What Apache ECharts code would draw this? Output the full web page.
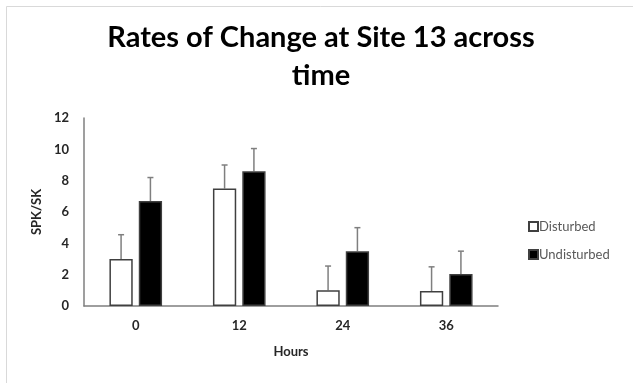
<!DOCTYPE html>
<html><head><meta charset="utf-8">
<script src="https://cdn.jsdelivr.net/npm/echarts@6/dist/echarts.min.js"></script>
<style>html,body{margin:0;padding:0;background:#fff}#c{width:633px;height:383px}</style>
</head><body><div id="c"></div>
<script>
const categories = ['0', '12', '24', '36'];
const disturbed = [3.0, 7.5, 1.0, 0.95];
const undisturbed = [6.7, 8.6, 3.5, 2.05];
const disturbedErr = [1.55, 1.5, 1.55, 1.55];
const undisturbedErr = [1.5, 1.45, 1.5, 1.45];
const yTicks = { min: 0, max: 12, interval: 2 };

const chart = echarts.init(document.getElementById('c'), null, { renderer: 'canvas' });
const FONT = 'Lato';
const BAR_W = 0.225, GAP = 0.26;

function errSeries(vals, errs, side) {
  return {
    type: 'custom',
    z: 1,
    silent: true,
    data: vals.map((v, i) => [i, v, v + errs[i]]),
    renderItem: function (params, api) {
      const band = api.size([1, 0])[0];
      const bw = band * BAR_W;
      const off = side * bw * (1 + GAP) / 2;
      const p0 = api.coord([api.value(0), api.value(1)]);
      const p1 = api.coord([api.value(0), api.value(2)]);
      const x = p0[0] + off;
      const style = { stroke: '#7f7f7f', lineWidth: 1.5 };
      return {
        type: 'group',
        children: [
          { type: 'line', shape: { x1: x, y1: p0[1], x2: x, y2: p1[1] }, style: style },
          { type: 'line', shape: { x1: x - 3, y1: p1[1], x2: x + 3, y2: p1[1] }, style: style }
        ]
      };
    }
  };
}

chart.setOption({
  animation: false,
  backgroundColor: '#fff',
  graphic: [{
    type: 'rect', left: 4, top: 4, shape: { width: 640, height: 377 },
    style: { fill: 'none', stroke: '#d9d9d9', lineWidth: 1 }, z: -10
  }, {
    type: 'text', x: 321, y: 57,
    style: {
      text: 'Rates of Change at Site 13 across\ntime', textAlign: 'center', textVerticalAlign: 'middle',
      font: 'bold 29px ' + FONT, fill: '#000', lineHeight: 38
    }
  }],
  legend: {
    data: ['Disturbed', 'Undisturbed'],
    orient: 'vertical', left: 523, top: 215, itemGap: 15,
    icon: 'rect', itemWidth: 9, itemHeight: 9,
    textStyle: { fontFamily: FONT, fontSize: 13, color: '#595959', padding: [0, 0, 0, -4] }
  },
  grid: { left: 84, right: 135, top: 118, bottom: 77 },
  xAxis: {
    type: 'category', data: categories,
    name: 'Hours', nameLocation: 'middle', nameGap: 39,
    nameTextStyle: { fontFamily: FONT, fontWeight: 'bold', fontSize: 13, color: '#262626' },
    axisLine: { lineStyle: { color: '#7f7f7f', width: 1.5 } },
    axisTick: { show: false },
    axisLabel: { fontFamily: FONT, fontWeight: 'bold', fontSize: 13, color: '#262626', margin: 13 }
  },
  yAxis: {
    type: 'value', min: yTicks.min, max: yTicks.max, interval: yTicks.interval,
    name: 'SPK/SK', nameLocation: 'middle', nameRotate: 90, nameGap: 36,
    nameTextStyle: { fontFamily: FONT, fontWeight: 'bold', fontSize: 13, color: '#262626' },
    axisLine: { show: true, lineStyle: { color: '#7f7f7f', width: 1.5 } },
    axisTick: { show: false },
    splitLine: { show: false },
    axisLabel: { fontFamily: FONT, fontWeight: 'bold', fontSize: 13, color: '#262626', margin: 15 }
  },
  series: [
    {
      name: 'Disturbed', type: 'bar', data: disturbed,
      barWidth: (BAR_W * 100) + '%', barGap: (GAP * 100) + '%', z: 2,
      itemStyle: { color: '#fff', borderColor: '#404040', borderWidth: 1.5 }
    },
    {
      name: 'Undisturbed', type: 'bar', data: undisturbed,
      barWidth: (BAR_W * 100) + '%', barGap: (GAP * 100) + '%', z: 2,
      itemStyle: { color: '#000', borderColor: '#404040', borderWidth: 1.5 }
    },
    errSeries(disturbed, disturbedErr, -1),
    errSeries(undisturbed, undisturbedErr, 1)
  ]
});
</script></body></html>
